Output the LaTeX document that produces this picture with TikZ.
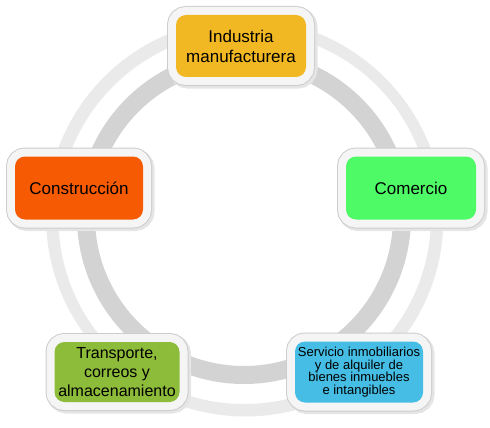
\documentclass[tikz,border=0pt]{standalone}
\usepackage{fontspec}
\setmainfont{Liberation Sans}
\usetikzlibrary{calc}
\definecolor{gold}{HTML}{F2B824}
\definecolor{flame}{HTML}{F65A02}
\definecolor{mint}{HTML}{4EFB66}
\definecolor{moss}{HTML}{8DBB3A}
\definecolor{sky}{HTML}{45BDE4}
\definecolor{ringpale}{HTML}{EAEAEA}
\definecolor{ringgrey}{HTML}{D3D3D3}
\definecolor{rim}{HTML}{CDCDCD}

\begin{document}
\begin{tikzpicture}[x=1pt,y=-1pt,
  sector/.style={rounded corners=10pt,inner sep=0pt,align=center,
    font=\fontsize{17}{20}\selectfont,
    preaction={draw=black!10,line width=19pt,transform canvas={xshift=2pt,yshift=-2pt}},
    preaction={draw=rim,line width=18pt},
    preaction={draw=white!96!black,line width=16pt}}]
  \useasboundingbox (0,0) rectangle (490,428);
  % ring
  \coordinate (hub) at (244,217);
  \draw[black!8,line width=11pt] ($(hub)+(1.5,1.5)$) circle[radius=192.5];
  \draw[ringpale,line width=11pt] (hub) circle[radius=192.5];
  \draw[ringgrey,line width=18pt] (hub) circle[radius=158];
  % sectors
  \node[sector,fill=gold,minimum width=130pt,minimum height=62pt] (industria) at (241,46)
       {Industria\\manufacturera};
  \node[sector,fill=flame,minimum width=128pt,minimum height=63pt] (construccion) at (79,188)
       {Construcción};
  \node[sector,fill=mint,minimum width=130pt,minimum height=63pt] (comercio) at (411,188)
       {Comercio};
  \node[sector,fill=moss,minimum width=125pt,minimum height=60pt,
        font=\fontsize{16}{19}\selectfont] (transporte) at (117,372)
       {Transporte,\\correos y\\almacenamiento};
  \node[sector,fill=sky,minimum width=128pt,minimum height=61pt,
        font=\fontsize{13}{12.7}\selectfont] (servicio) at (359,372)
       {Servicio inmobiliarios\\y de alquiler de\\bienes inmuebles\\e intangibles};
\end{tikzpicture}
\end{document}
